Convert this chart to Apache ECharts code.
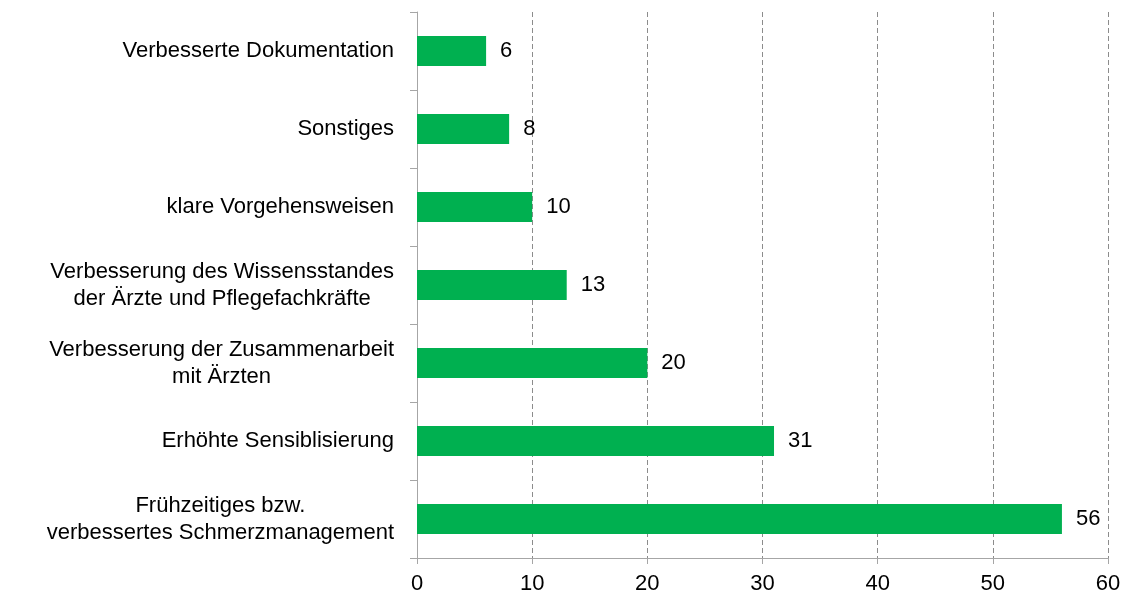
<!DOCTYPE html>
<html>
<head>
<meta charset="utf-8">
<script src="https://cdn.jsdelivr.net/npm/echarts@6/dist/echarts.min.js"></script>
<style>
  html, body { margin: 0; padding: 0; background: #fff; }
  #chart { width: 1129px; height: 599px; }
</style>
</head>
<body>
<div id="chart"></div>
<script>
// Categories listed from top to bottom
const categories = [
  'Verbesserte Dokumentation',
  'Sonstiges',
  'klare Vorgehensweisen',
  'Verbesserung des Wissensstandes\nder Ärzte und Pflegefachkräfte',
  'Verbesserung der Zusammenarbeit\nmit Ärzten',
  'Erhöhte Sensiblisierung',
  'Frühzeitiges bzw.\nverbessertes Schmerzmanagement'
];
const values = [6, 8, 10, 13, 20, 31, 56];
const xTicks = { min: 0, max: 60, interval: 10 };

const FONT = '"Liberation Sans", Arial, sans-serif';
const FONT_SIZE = 22;
const AXIS_GRAY = '#a6a6a6';

const chart = echarts.init(document.getElementById('chart'), null, { renderer: 'canvas' });
chart.setOption({
  animation: false,
  backgroundColor: '#ffffff',
  grid: { left: 417, right: 21, top: 12, bottom: 41, containLabel: false },
  xAxis: {
    type: 'value',
    min: xTicks.min,
    max: xTicks.max,
    interval: xTicks.interval,
    axisLine: { show: true, lineStyle: { color: AXIS_GRAY, width: 1 } },
    axisTick: { show: true, length: 6, lineStyle: { color: AXIS_GRAY } },
    axisLabel: { margin: 15, color: '#000', fontSize: FONT_SIZE, fontFamily: FONT },
    splitLine: { show: true, lineStyle: { color: '#8c8c8c', type: [5, 3], width: 1 } }
  },
  yAxis: {
    type: 'category',
    inverse: true,
    data: categories,
    axisLine: { show: true, lineStyle: { color: AXIS_GRAY, width: 1 } },
    axisTick: { show: true, length: 7, alignWithLabel: false, lineStyle: { color: AXIS_GRAY } },
    axisLabel: {
      margin: 23,
      color: '#000',
      fontSize: FONT_SIZE,
      fontFamily: FONT,
      lineHeight: 27,
      formatter: function (v) {
        return v.split('\n').map(function (s) { return '{c|' + s + '}'; }).join('\n');
      },
      rich: {
        c: { align: 'center', fontSize: FONT_SIZE, fontFamily: FONT, color: '#000', lineHeight: 27 }
      }
    },
    splitLine: { show: false }
  },
  series: [{
    type: 'bar',
    data: values,
    barWidth: 30,
    itemStyle: { color: '#00b050' },
    label: {
      show: true,
      position: 'right',
      distance: 14,
      color: '#000',
      fontSize: FONT_SIZE,
      fontFamily: FONT
    }
  }]
});
</script>
</body>
</html>
